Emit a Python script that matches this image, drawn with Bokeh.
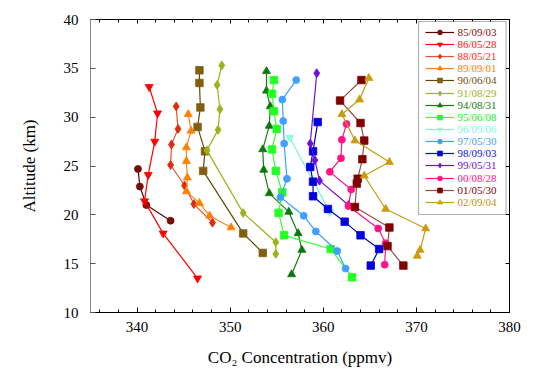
from bokeh.plotting import figure
from bokeh.models import (Legend, LegendItem, LinearAxis, BoxAnnotation,
                          SingleIntervalTicker, Range1d)
from bokeh.embed import file_html
from bokeh.resources import INLINE

# ---- data (CO2 ppmv, altitude km) ----
dates = ["85/09/03", "86/05/28", "88/05/21", "89/09/01", "90/06/04",
         "91/08/29", "94/08/31", "95/06/08", "96/09/06", "97/05/30",
         "98/09/03", "99/05/31", "00/08/28", "01/05/30", "02/09/04"]

co2_850903 = [340.1, 340.3, 341.0, 343.6]
alt_850903 = [24.7, 22.9, 21.0, 19.4]

co2_860528 = [341.3, 342.2, 341.9, 341.2, 340.8, 342.8, 346.5]
alt_860528 = [33.1, 30.4, 27.5, 24.1, 21.4, 18.1, 13.5]

co2_880521 = [344.2, 344.4, 343.7, 343.6, 345.1, 346.1, 348.1]
alt_880521 = [31.1, 28.8, 27.2, 25.1, 23.0, 21.1, 19.2]

co2_890901 = [345.5, 345.8, 345.3, 345.3, 345.4, 345.3, 346.7, 347.8, 350.1]
alt_890901 = [30.3, 28.6, 26.9, 25.5, 23.8, 22.4, 21.2, 19.9, 18.7]

co2_900604 = [346.7, 346.7, 346.8, 346.5, 347.3, 347.1, 351.4, 353.5]
alt_900604 = [34.8, 33.5, 31.0, 29.0, 26.5, 24.5, 18.1, 16.1]

co2_910829 = [349.1, 348.6, 348.9, 348.7, 347.5, 351.4, 354.9, 354.9]
alt_910829 = [35.3, 33.3, 30.8, 28.7, 26.6, 20.2, 17.2, 16.0]

co2_940831 = [353.9, 353.9, 354.3, 354.2, 353.5, 353.6, 354.2, 356.3, 357.3, 357.7, 356.6]
alt_940831 = [34.7, 32.7, 31.1, 29.1, 26.7, 24.6, 22.2, 20.3, 18.1, 16.4, 13.9]

co2_950608 = [354.7, 354.5, 354.7, 355.0, 354.5, 354.9, 355.6, 355.2, 355.8, 360.8, 363.1]
alt_950608 = [33.8, 32.4, 30.6, 28.8, 26.7, 24.5, 22.3, 20.2, 17.9, 16.5, 13.6]

co2_960906 = [356.4, 360.7]
alt_960906 = [27.9, 20.3]

co2_970530 = [357.1, 355.6, 355.7, 355.8, 356.1, 355.4, 357.9, 359.2, 361.5, 362.4]
alt_970530 = [33.8, 31.8, 29.6, 27.3, 23.7, 21.8, 19.9, 18.3, 16.3, 14.5]

co2_980903 = [359.4, 358.9, 358.6, 358.9, 358.9, 360.5, 362.3, 364.0, 366.0, 365.1]
alt_980903 = [29.5, 26.5, 24.9, 23.4, 21.9, 20.6, 19.3, 17.9, 16.5, 14.8]

co2_990531 = [359.3, 358.6, 359.1, 359.6, 362.7]
alt_990531 = [34.5, 27.3, 25.6, 23.5, 21.0]

co2_000828 = [362.5, 362.0, 361.9, 360.7, 363.0, 362.7, 365.9, 366.7, 366.6]
alt_000828 = [29.3, 27.7, 25.8, 24.4, 22.6, 20.9, 18.6, 17.1, 14.9]

co2_010530 = [364.1, 361.8, 364.0, 364.4, 364.2, 363.7, 363.6, 363.4, 367.1, 366.9, 368.6]
alt_010530 = [33.8, 31.7, 29.4, 27.6, 25.7, 23.7, 23.2, 20.8, 18.7, 16.8, 14.8]

co2_020904 = [364.9, 363.9, 362.0, 363.4, 367.1, 364.4, 366.7, 371.0, 370.4, 370.1]
alt_020904 = [34.0, 31.8, 30.3, 27.6, 25.4, 24.0, 20.6, 18.6, 16.4, 15.8]

co2_series = [co2_850903, co2_860528, co2_880521, co2_890901, co2_900604,
              co2_910829, co2_940831, co2_950608, co2_960906, co2_970530,
              co2_980903, co2_990531, co2_000828, co2_010530, co2_020904]
alt_series = [alt_850903, alt_860528, alt_880521, alt_890901, alt_900604,
              alt_910829, alt_940831, alt_950608, alt_960906, alt_970530,
              alt_980903, alt_990531, alt_000828, alt_010530, alt_020904]

# ---- styles ----
marker_colors = ["#780c0c", "#ff0000", "#e02a0a", "#ff8000", "#806010",
                 "#9cb31a", "#0a780a", "#22ff22", "#88ffd8", "#40a0ff",
                 "#0000dd", "#6a10d8", "#ff1488", "#800000", "#c89c10"]
line_colors = ["#600000", "#ff0000", "#e85030", "#ff8020", "#604800",
               "#9cb31a", "#108010", "#33ff33", "#80f0d0", "#40a0ff",
               "#0000dd", "#6a10d8", "#ff1488", "#a04848", "#c89c10"]
text_colors = ["#7a1010", "#ff1010", "#ff2a10", "#ff8000", "#705010",
               "#9cb31a", "#108010", "#22ee22", "#88f0d8", "#40a0ff",
               "#1010dd", "#6a10d8", "#ff1488", "#800000", "#c09010"]
markers = ["circle", "inverted_triangle", "diamond", "triangle", "square",
           "diamond", "triangle", "square", "inverted_triangle", "circle",
           "square", "diamond", "circle", "square", "triangle"]
msize = {"circle": 7, "inverted_triangle": 8, "diamond": 9, "triangle": 8, "square": 7.5}

FONT = "Liberation Serif"

p = figure(width=524, height=374, output_backend="svg", toolbar_location=None,
           x_range=Range1d(335, 380), y_range=Range1d(10, 40),
           min_border_left=90, min_border_right=15, min_border_top=19,
           min_border_bottom=62)
p.xgrid.visible = False
p.ygrid.visible = False
p.outline_line_color = "black"
p.background_fill_color = "white"

p.xaxis.ticker = SingleIntervalTicker(interval=10, num_minor_ticks=5)
p.yaxis.ticker = SingleIntervalTicker(interval=5, num_minor_ticks=0)
p.xaxis.axis_label = "CO\u2082 Concentration (ppmv)"
p.yaxis.axis_label = "Altitude (km)"
for ax in (p.xaxis[0], p.yaxis[0]):
    ax.major_tick_in = 5
    ax.major_tick_out = 0
    ax.minor_tick_in = 3
    ax.minor_tick_out = 0
    ax.major_label_text_font = FONT
    ax.major_label_text_font_size = "15px"
    ax.major_label_text_color = "black"
    ax.axis_label_text_font = FONT
    ax.axis_label_text_font_size = "17px"
    ax.axis_label_text_font_style = "normal"
    ax.axis_label_text_color = "black"
    ax.major_tick_line_color = "black"
    ax.minor_tick_line_color = "black"
p.xaxis.axis_line_color = "black"
p.yaxis.axis_line_color = "#888888"
p.yaxis.major_tick_line_color = "#555555"
p.xaxis.major_label_standoff = 9
p.xaxis.axis_label_standoff = 13
p.yaxis.major_label_standoff = 12
p.yaxis.axis_label_standoff = 22

top_ax = LinearAxis(ticker=SingleIntervalTicker(interval=10, num_minor_ticks=5),
                    major_label_text_font_size="1px", major_label_text_color=None,
                    major_tick_in=4, major_tick_out=0,
                    minor_tick_in=3, minor_tick_out=0, major_label_standoff=0)
right_ax = LinearAxis(ticker=SingleIntervalTicker(interval=5, num_minor_ticks=0),
                      major_label_text_font_size="1px", major_label_text_color=None,
                      major_tick_in=4, major_tick_out=0,
                      minor_tick_in=0, minor_tick_out=0, major_label_standoff=0)
p.add_layout(top_ax, "above")
p.add_layout(right_ax, "right")

renderers = []
for i in range(len(dates)):
    lr = p.line(co2_series[i], alt_series[i], line_color=line_colors[i], line_width=1.2)
    sr = p.scatter(co2_series[i], alt_series[i], marker=markers[i],
                   size=msize[markers[i]], fill_color=marker_colors[i],
                   line_color=marker_colors[i], line_width=0.8)
    renderers.append([lr, sr])

# legend frame (screen px relative to plot frame, y up from bottom)
box = BoxAnnotation(left=328, right=415.5, top=291, bottom=98,
                    left_units="screen", right_units="screen",
                    top_units="screen", bottom_units="screen",
                    fill_color="white", fill_alpha=1.0,
                    line_color="black", line_width=1.2)
p.add_layout(box)

row0 = 31.7
row_step = 12.16
for i in range(len(dates)):
    center = row0 + row_step * i
    vy = 306 - center
    lg = Legend(items=[LegendItem(label=dates[i], renderers=renderers[i])],
                location=(334.5, vy), padding=0, margin=0, spacing=0,
                border_line_color=None, background_fill_alpha=0,
                label_text_color=text_colors[i], label_text_font=FONT,
                label_text_font_size="11px", label_text_line_height=1.0,
                glyph_width=29, glyph_height=12, label_height=12,
                label_standoff=4)
    p.add_layout(lg, "center")

open("out.html", "w").write(file_html(p, INLINE))
